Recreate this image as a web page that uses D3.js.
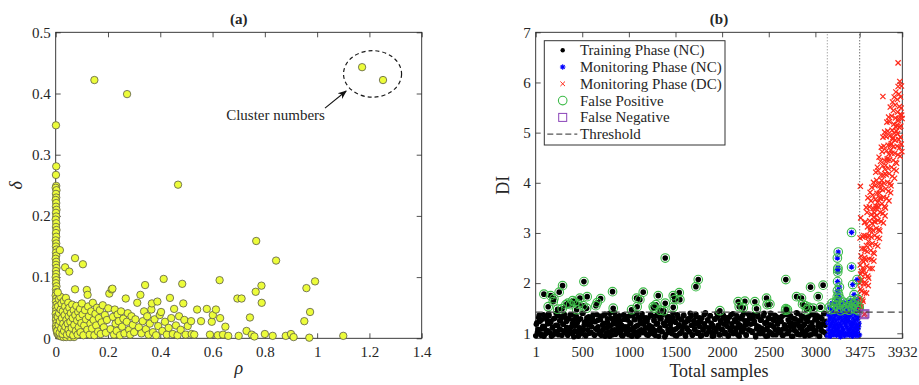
<!DOCTYPE html>
<html>
<head>
<meta charset="utf-8">
<script src="https://cdn.jsdelivr.net/npm/d3@7"></script>
<style>
  body { margin: 0; background: #fff; }
  svg { display: block; }
  text { font-family: 'Liberation Serif', 'Times New Roman', serif; fill: #262626; }
</style>
</head>
<body>
<svg id="chart" width="919" height="385"></svg>
<script>
// ---------- panel (a): decision graph ----------
const rhoTicks = [0, 0.2, 0.4, 0.6, 0.8, 1, 1.2, 1.4];
const deltaTicks = [0, 0.1, 0.2, 0.3, 0.4, 0.5];

// points stacked on rho ~ 0
const columnPts = [
  [0.001,0.348],[0.002,0.281],[0.001,0.267],[0.002,0.249],[0.000,0.246],[0.003,0.242],[0.001,0.236],[0.002,0.230],
  [0.000,0.226],[0.002,0.221],[0.001,0.215],[0.003,0.210],[0.001,0.205],[0.002,0.199],[0.000,0.194],[0.002,0.188],
  [0.001,0.182],[0.003,0.177],[0.001,0.172],[0.002,0.166],[0.000,0.160],[0.002,0.155],[0.001,0.150],[0.003,0.145],
  [0.001,0.140],[0.002,0.135],[0.000,0.130],[0.002,0.125],[0.001,0.120],[0.003,0.115],[0.001,0.110],[0.002,0.105],
  [0.000,0.100],[0.002,0.095],[0.001,0.090],[0.003,0.085],[0.001,0.080],[0.002,0.075],[0.000,0.070],[0.002,0.065],
  [0.001,0.060],[0.003,0.055],[0.001,0.050],[0.002,0.045],[0.000,0.040],[0.002,0.035],[0.001,0.030],[0.003,0.025],
  [0.001,0.020],[0.002,0.016],[0.004,0.012],[0.006,0.008],[0.010,0.006],[0.015,0.004],[0.021,0.003],[0.030,0.002],
  [0.040,0.002],[0.055,0.002],[0.070,0.002]
];

// dense cloud in the lower-left corner
const cloudPts = [
  [0.006,0.012],[0.008,0.035],[0.009,0.052],[0.011,0.022],[0.012,0.064],[0.013,0.041],[0.015,0.009],[0.016,0.028],
  [0.018,0.068],[0.019,0.047],[0.021,0.016],[0.022,0.057],[0.024,0.033],[0.026,0.007],[0.027,0.044],[0.029,0.024],
  [0.031,0.061],[0.032,0.012],[0.034,0.038],[0.036,0.052],[0.037,0.019],[0.039,0.066],[0.041,0.030],[0.043,0.006],
  [0.044,0.045],[0.046,0.024],[0.048,0.058],[0.049,0.014],[0.050,0.036],[0.008,0.075],[0.016,0.144],[0.036,0.116],
  [0.052,0.109],[0.074,0.131],[0.104,0.121],
  [0.052,0.050],[0.054,0.008],[0.056,0.027],[0.058,0.041],[0.061,0.017],[0.063,0.055],[0.065,0.033],[0.067,0.005],
  [0.069,0.046],[0.071,0.022],[0.074,0.080],[0.075,0.038],[0.077,0.012],[0.079,0.053],[0.082,0.029],[0.084,0.006],
  [0.086,0.043],[0.088,0.018],[0.091,0.034],[0.093,0.048],[0.095,0.010],[0.098,0.025],[0.100,0.057],[0.103,0.039],
  [0.106,0.005],[0.109,0.021],[0.112,0.046],[0.116,0.031],[0.119,0.079],[0.122,0.071],
  [0.121,0.014],[0.124,0.052],[0.127,0.036],[0.130,0.006],[0.133,0.024],[0.136,0.044],[0.139,0.016],[0.142,0.058],
  [0.145,0.030],[0.148,0.005],[0.152,0.040],[0.155,0.021],[0.158,0.050],[0.162,0.011],[0.165,0.033],[0.169,0.046],
  [0.172,0.007],[0.176,0.026],[0.180,0.054],[0.184,0.018],[0.188,0.038],[0.192,0.009],[0.196,0.030],[0.201,0.049],
  [0.205,0.073],[0.210,0.015],[0.214,0.080],[0.217,0.081],[0.219,0.035],
  [0.223,0.006],[0.226,0.047],[0.229,0.024],[0.233,0.012],[0.237,0.039],[0.241,0.028],[0.246,0.005],[0.250,0.044],
  [0.254,0.019],[0.259,0.032],[0.263,0.008],[0.268,0.065],[0.272,0.027],[0.276,0.041],[0.281,0.014],[0.285,0.006],
  [0.290,0.036],[0.295,0.022],[0.300,0.010],[0.305,0.031],[0.312,0.058],[0.318,0.018],
  [0.324,0.071],[0.328,0.008],[0.333,0.028],[0.338,0.044],[0.342,0.087],[0.345,0.015],[0.350,0.036],[0.355,0.006],
  [0.360,0.024],[0.366,0.047],[0.368,0.057],[0.372,0.010],[0.378,0.031],[0.384,0.005],[0.389,0.060],[0.392,0.020],
  [0.398,0.038],[0.403,0.043],[0.408,0.012],[0.413,0.097],[0.418,0.027],[0.425,0.006],[0.432,0.017],[0.437,0.066],
  [0.442,0.033],[0.448,0.007],[0.453,0.048],[0.460,0.021],[0.466,0.005],[0.472,0.036],[0.478,0.014],[0.484,0.089],
  [0.488,0.057],[0.492,0.030],[0.497,0.006]
];

// sparse points to the right
const sparsePts = [
  [0.505,0.020],[0.518,0.028],[0.520,0.007],[0.530,0.006],[0.541,0.047],[0.556,0.028],[0.578,0.048],[0.590,0.006],
  [0.597,0.027],[0.601,0.038],[0.613,0.047],[0.620,0.005],[0.627,0.095],[0.629,0.033],[0.640,0.006],[0.649,0.019],
  [0.660,0.004],[0.695,0.065],[0.700,0.004],[0.711,0.065],[0.730,0.012],[0.743,0.034],[0.750,0.006],[0.760,0.003],
  [0.765,0.076],[0.767,0.159],[0.787,0.086],[0.788,0.058],[0.800,0.007],[0.830,0.004],[0.843,0.127],[0.880,0.004],
  [0.900,0.007],[0.910,0.002],[0.951,0.028],[0.959,0.082],[0.970,0.001],[0.973,0.043],[0.992,0.093],[1.100,0.004],
  [0.148,0.422],[0.273,0.399],[0.468,0.251]
];

// the two cluster centres
const centerPts = [[1.172,0.443],[1.252,0.422]];

// ---------- panel (b): detection index ----------
const sampleTicks = [1, 500, 1000, 1500, 2000, 2500, 3000, 3475, 3932];
const diTicks = [1, 2, 3, 4, 5, 6, 7];
const threshold = 1.42;
const phaseBounds = [3128, 3475];

// training phase (NC), [sample, DI]
const trainPts = [
  [2,0.95],[14,1.21],[27,1.08],[38,1.36],[52,0.99],[63,1.27],[77,1.14],[90,0.94],[101,1.32],[115,1.05],[128,1.19],[140,1.39],
  [153,1.01],[165,1.24],[179,1.11],[191,0.97],[204,1.30],[216,1.16],[230,1.03],[243,1.35],[255,1.09],[268,1.25],[282,0.96],[294,1.18],
  [307,1.38],[320,1.06],[333,1.12],[345,0.98],[358,1.29],[371,1.04],[384,1.37],[396,1.20],[410,0.93],[422,1.15],[435,1.33],[448,1.02],
  [461,1.26],[473,1.10],[487,0.99],[499,1.40],[512,1.07],[525,1.22],[538,0.95],[550,1.31],[564,1.17],[576,1.00],[589,1.28],[602,1.13],
  [615,1.36],[627,0.97],[641,1.23],[653,1.08],[666,1.26],[679,1.03],[692,1.34],[704,0.96],[718,1.17],[730,1.09],[743,1.38],[756,1.00],
  [769,1.22],[781,1.14],[795,0.94],[807,1.30],[820,1.06],[833,1.19],[846,1.41],[858,0.98],[872,1.25],[884,1.11],[897,1.35],[910,1.02],
  [923,1.16],[935,0.95],[949,1.28],[961,1.07],[974,1.33],[987,1.13],[1000,0.97],[1012,1.21],[1026,1.08],[1038,1.36],[1051,0.99],[1064,1.27],
  [1077,1.14],[1089,0.94],[1103,1.32],[1115,1.05],[1128,1.19],[1141,1.39],[1154,1.01],[1166,1.24],[1180,1.11],[1192,0.97],[1205,1.30],[1218,1.16],
  [1231,1.03],[1243,1.35],[1257,1.09],[1269,1.25],[1282,0.96],[1295,1.18],[1308,1.38],[1320,1.06],[1334,1.29],[1346,1.04],[1359,1.37],[1372,1.20],
  [1385,0.93],[1397,1.15],[1411,1.33],[1423,1.02],[1436,1.26],[1449,1.10],[1462,0.99],[1474,1.40],[1488,1.07],[1500,1.22],[1513,0.95],[1526,1.31],
  [1539,1.17],[1551,1.00],[1565,1.28],[1577,1.13],[1590,1.36],[1603,0.97],[1616,1.23],[1628,1.08],[1642,1.26],[1654,1.03],[1667,1.34],[1680,0.96],
  [1693,1.17],[1705,1.09],[1719,1.38],[1731,1.00],[1744,1.22],[1757,1.14],[1770,0.94],[1782,1.30],[1796,1.06],[1808,1.19],[1821,1.41],[1834,0.98],
  [1847,1.25],[1859,1.11],[1873,1.35],[1885,1.02],[1898,1.16],[1911,0.95],[1924,1.28],[1936,1.07],[1950,1.33],[1962,1.13],[1975,0.97],[1988,1.21],
  [2001,1.08],[2013,1.36],[2027,0.99],[2039,1.27],[2052,1.14],[2065,0.94],[2078,1.32],[2090,1.05],[2104,1.19],[2116,1.39],[2129,1.01],[2142,1.24],
  [2155,1.11],[2167,0.97],[2181,1.30],[2193,1.16],[2206,1.03],[2219,1.35],[2232,1.09],[2244,1.25],[2258,0.96],[2270,1.18],[2283,1.38],[2296,1.06],
  [2309,1.29],[2321,1.04],[2335,1.37],[2347,1.20],[2360,0.93],[2373,1.15],[2386,1.33],[2398,1.02],[2412,1.26],[2424,1.10],[2437,0.99],[2450,1.40],
  [2463,1.07],[2475,1.22],[2489,0.95],[2501,1.31],[2514,1.17],[2527,1.00],[2540,1.28],[2552,1.13],[2566,1.36],[2578,0.97],[2591,1.23],[2604,1.08],
  [2617,1.26],[2629,1.03],[2643,1.34],[2655,0.96],[2668,1.17],[2681,1.09],[2694,1.38],[2706,1.00],[2720,1.22],[2732,1.14],[2745,0.94],[2758,1.30],
  [2771,1.06],[2783,1.19],[2797,1.41],[2809,0.98],[2822,1.25],[2835,1.11],[2848,1.35],[2860,1.02],[2874,1.16],[2886,0.95],[2899,1.28],[2912,1.07],
  [2925,1.33],[2937,1.13],[2951,0.97],[2963,1.21],[2976,1.08],[2989,1.36],[3002,0.99],[3014,1.27],[3028,1.14],[3040,0.94],[3053,1.32],[3066,1.05],
  [3079,1.19],[3091,1.39],[3105,1.01],[3117,1.24],
  // above the threshold
  [89,1.78],[135,1.53],[161,1.75],[189,1.63],[196,1.69],[236,1.48],[253,1.82],[289,1.95],[285,1.49],[325,1.57],[347,1.60],[375,1.57],
  [397,1.65],[420,1.62],[440,1.47],[455,1.58],[475,1.70],[510,1.55],[518,2.03],[547,1.50],[553,1.73],[646,1.55],[660,1.61],[697,1.69],
  [825,1.83],[832,1.50],[1029,1.47],[1083,1.70],[1089,1.53],[1118,1.67],[1154,1.82],[1261,1.53],[1270,1.50],[1290,1.57],[1315,1.75],[1335,1.46],
  [1375,1.45],[1390,1.60],[1390,2.50],[1476,1.52],[1476,1.75],[1490,1.67],[1540,1.81],[1547,1.67],[1719,1.93],[1744,2.07],[1976,1.45],[2172,1.63],
  [2183,1.53],[2226,1.51],[2244,1.64],[2351,1.63],[2369,1.49],[2476,1.70],[2483,1.57],[2512,1.58],[2680,1.46],[2683,2.07],[2683,1.49],[2700,1.47],
  [2798,1.73],[2851,1.70],[2862,1.58],[2890,1.55],[2905,1.47],[2925,1.52],[2948,1.92],[2976,1.50],[3030,1.73],[3055,1.52],[3083,1.96]
];

// more training samples inside the band
const trainPtsB = [
  [8,1.18],[20,1.02],[33,1.31],[45,1.24],[58,0.96],[70,1.09],[83,1.37],[95,1.13],[108,0.99],[120,1.27],
  [133,1.05],[145,1.35],[158,1.20],[170,0.94],[183,1.11],[195,1.29],[208,1.03],[220,1.40],[233,1.16],[245,0.97],
  [258,1.25],[270,1.07],[283,1.33],[295,1.18],[308,1.02],[320,1.31],[333,1.24],[345,0.96],[358,1.09],[370,1.37],
  [383,1.13],[395,0.99],[408,1.27],[420,1.05],[433,1.35],[445,1.20],[458,0.94],[470,1.11],[483,1.29],[495,1.03],
  [508,1.40],[520,1.16],[533,0.97],[545,1.25],[558,1.07],[570,1.33],[583,1.18],[595,1.02],[608,1.31],[620,1.24],
  [633,0.96],[645,1.09],[658,1.37],[670,1.13],[683,0.99],[695,1.27],[708,1.05],[720,1.35],[733,1.20],[745,0.94],
  [758,1.11],[770,1.29],[783,1.03],[795,1.40],[808,1.16],[820,0.97],[833,1.25],[845,1.07],[858,1.33],[870,1.18],
  [883,1.02],[895,1.31],[908,1.24],[920,0.96],[933,1.09],[945,1.37],[958,1.13],[970,0.99],[983,1.27],[995,1.05],
  [1008,1.35],[1020,1.20],[1033,0.94],[1045,1.11],[1058,1.29],[1070,1.03],[1083,1.40],[1095,1.16],[1108,0.97],[1120,1.25],
  [1133,1.07],[1145,1.33],[1158,1.18],[1170,1.02],[1183,1.31],[1195,1.24],[1208,0.96],[1220,1.09],[1233,1.37],[1245,1.13],
  [1258,0.99],[1270,1.27],[1283,1.05],[1295,1.35],[1308,1.20],[1320,0.94],[1333,1.11],[1345,1.29],[1358,1.03],[1370,1.40],
  [1383,1.16],[1395,0.97],[1408,1.25],[1420,1.07],[1433,1.33],[1445,1.18],[1458,1.02],[1470,1.31],[1483,1.24],[1495,0.96],
  [1508,1.09],[1520,1.37],[1533,1.13],[1545,0.99],[1558,1.27],[1570,1.05],[1583,1.35],[1595,1.20],[1608,0.94],[1620,1.11],
  [1633,1.29],[1645,1.03],[1658,1.40],[1670,1.16],[1683,0.97],[1695,1.25],[1708,1.07],[1720,1.33],[1733,1.18],[1745,1.02],
  [1758,1.31],[1770,1.24],[1783,0.96],[1795,1.09],[1808,1.37],[1820,1.13],[1833,0.99],[1845,1.27],[1858,1.05],[1870,1.35],
  [1883,1.20],[1895,0.94],[1908,1.11],[1920,1.29],[1933,1.03],[1945,1.40],[1958,1.16],[1970,0.97],[1983,1.25],[1995,1.07],
  [2008,1.33],[2020,1.18],[2033,1.02],[2045,1.31],[2058,1.24],[2070,0.96],[2083,1.09],[2095,1.37],[2108,1.13],[2120,0.99],
  [2133,1.27],[2145,1.05],[2158,1.35],[2170,1.20],[2183,0.94],[2195,1.11],[2208,1.29],[2220,1.03],[2233,1.40],[2245,1.16],
  [2258,0.97],[2270,1.25],[2283,1.07],[2295,1.33],[2308,1.18],[2320,1.02],[2333,1.31],[2345,1.24],[2358,0.96],[2370,1.09],
  [2383,1.37],[2395,1.13],[2408,0.99],[2420,1.27],[2433,1.05],[2445,1.35],[2458,1.20],[2470,0.94],[2483,1.11],[2495,1.29],
  [2508,1.03],[2520,1.40],[2533,1.16],[2545,0.97],[2558,1.25],[2570,1.07],[2583,1.33],[2595,1.18],[2608,1.02],[2620,1.31],
  [2633,1.24],[2645,0.96],[2658,1.09],[2670,1.37],[2683,1.13],[2695,0.99],[2708,1.27],[2720,1.05],[2733,1.35],[2745,1.20],
  [2758,0.94],[2770,1.11],[2783,1.29],[2795,1.03],[2808,1.40],[2820,1.16],[2833,0.97],[2845,1.25],[2858,1.07],[2870,1.33],
  [2883,1.18],[2895,1.02],[2908,1.31],[2920,1.24],[2933,0.96],[2945,1.09],[2958,1.37],[2970,1.13],[2983,0.99],[2995,1.27],
  [3008,1.05],[3020,1.35],[3033,1.20],[3045,0.94],[3058,1.11],[3070,1.29],[3083,1.03],[3095,1.40],[3108,1.16],[3120,0.97]
];

// monitoring phase (NC)
const monitorNC = [
  [3130,0.95],[3134,1.21],[3139,1.08],[3143,1.36],[3147,0.99],[3152,1.27],[3156,1.14],[3160,0.94],[3165,1.32],[3169,1.05],
  [3173,1.19],[3178,1.39],[3182,1.01],[3186,1.24],[3191,1.11],[3195,0.97],[3199,1.30],[3204,1.16],[3208,1.03],[3212,1.35],
  [3217,1.09],[3221,1.25],[3225,0.96],[3230,1.18],[3234,1.38],[3238,1.06],[3243,1.12],[3247,0.98],[3251,1.29],[3256,1.04],
  [3260,1.37],[3264,1.20],[3269,0.93],[3273,1.15],[3277,1.33],[3282,1.02],[3286,1.26],[3290,1.10],[3295,0.99],[3299,1.40],
  [3303,1.07],[3308,1.22],[3312,0.95],[3316,1.31],[3321,1.17],[3325,1.00],[3329,1.28],[3334,1.13],[3338,1.36],[3342,0.97],
  [3347,1.23],[3351,1.08],[3355,1.26],[3360,1.03],[3364,1.34],[3368,0.96],[3373,1.17],[3377,1.09],[3381,1.38],[3386,1.00],
  [3390,1.22],[3394,1.14],[3399,0.94],[3403,1.30],[3407,1.06],[3412,1.19],[3416,1.41],[3420,0.98],[3425,1.25],[3429,1.11],
  [3433,1.35],[3438,1.02],[3442,1.16],[3446,0.95],[3451,1.28],[3455,1.07],[3459,1.33],[3464,1.13],[3468,1.20],[3472,0.97],
  // above the threshold
  [3150,1.52],[3165,1.47],[3180,1.60],[3195,1.48],[3215,1.55],[3226,1.62],[3230,1.65],[3234,1.72],[3236,1.85],[3238,2.03],
  [3240,2.22],[3240,2.27],[3242,2.30],[3236,2.50],[3245,2.62],[3248,1.78],[3250,1.50],[3255,1.58],[3258,1.92],[3262,1.70],
  [3270,1.45],[3285,1.55],[3300,1.62],[3315,1.48],[3330,1.52],[3345,1.60],[3360,1.46],[3372,1.55],[3380,1.65],[3388,3.01],
  [3388,2.32],[3395,1.50],[3400,1.97],[3410,1.58],[3415,1.77],[3425,1.62],[3430,1.48],[3440,1.54],[3447,2.07],[3455,1.68],
  [3462,1.45],[3470,1.52]
];

// monitoring phase (DC)
const monitorDC = [
  [3477,1.46],[3478,2.00],[3480,1.70],[3481,2.36],[3483,1.88],[3485,2.18],[3487,1.58],[3489,2.54],[3490,2.06],[3482,3.93],[3486,3.30],[3479,2.90],
  [3491,1.53],[3494,2.23],[3496,1.84],[3499,2.69],[3501,2.07],[3503,2.46],[3505,1.68],[3507,2.92],[3509,2.30],
  [3511,1.64],[3514,2.43],[3516,1.99],[3519,2.95],[3521,2.25],[3523,2.69],[3525,1.81],[3527,3.21],[3529,2.51],
  [3531,2.65],[3534,2.18],[3536,3.22],[3539,2.46],[3541,2.94],[3543,1.99],[3545,3.51],[3547,2.75],[3549,1.80],
  [3551,2.34],[3554,3.41],[3556,2.63],[3559,3.12],[3561,2.14],[3563,3.70],[3565,2.92],[3567,1.95],[3569,2.83],
  [3571,2.10],[3574,2.95],[3576,2.48],[3579,3.52],[3581,2.76],[3583,3.24],[3585,2.29],[3587,3.81],[3589,3.05],
  [3591,3.10],[3594,2.65],[3596,3.64],[3599,2.92],[3601,3.37],[3603,2.47],[3605,3.91],[3607,3.19],[3609,2.29],
  [3611,2.79],[3614,3.75],[3616,3.05],[3619,3.49],[3621,2.61],[3623,4.01],[3625,3.31],[3627,2.44],[3629,3.23],
  [3631,2.59],[3634,3.40],[3636,2.95],[3639,3.94],[3641,3.22],[3643,3.67],[3645,2.77],[3647,4.21],[3649,3.49],
  [3651,3.53],[3654,3.09],[3656,4.05],[3659,3.35],[3661,3.79],[3663,2.91],[3665,4.31],[3667,3.61],[3669,2.74],
  [3671,3.25],[3674,4.24],[3676,3.52],[3679,3.97],[3681,3.07],[3683,4.51],[3685,3.79],[3687,2.89],[3689,3.70],
  [3691,3.04],[3694,3.88],[3696,3.41],[3699,4.43],[3701,3.69],[3703,4.15],[3705,3.23],[3707,4.71],[3709,3.97],
  [3711,4.05],[3714,3.58],[3716,4.62],[3719,3.86],[3721,4.34],[3723,3.39],[3725,4.91],[3727,4.15],[3729,3.20],[3724,5.72],
  [3731,3.71],[3734,4.73],[3736,3.99],[3739,4.45],[3741,3.53],[3743,5.01],[3745,4.27],[3747,3.34],[3749,4.18],
  [3751,3.50],[3754,4.35],[3756,3.88],[3759,4.92],[3761,4.16],[3763,4.64],[3765,3.69],[3767,5.21],[3769,4.45],
  [3771,4.48],[3774,4.01],[3776,5.03],[3779,4.29],[3781,4.75],[3783,3.83],[3785,5.31],[3787,4.57],[3789,3.64],
  [3791,4.18],[3794,5.22],[3796,4.46],[3799,4.94],[3801,3.99],[3803,5.51],[3805,4.75],[3807,3.80],[3809,4.65],
  [3811,3.94],[3814,4.78],[3816,4.31],[3819,5.33],[3821,4.59],[3823,5.05],[3825,4.13],[3827,5.61],[3829,4.87],
  [3831,4.90],[3834,4.45],[3836,5.44],[3839,4.72],[3841,5.17],[3843,4.27],[3845,5.71],[3847,4.99],[3849,4.09],
  [3851,4.59],[3854,5.55],[3856,4.85],[3859,5.29],[3861,4.41],[3863,5.81],[3865,5.11],[3867,4.24],[3869,5.03],
  [3871,4.39],[3874,5.15],[3876,4.73],[3879,5.66],[3881,4.98],[3883,5.41],[3885,4.56],[3887,5.92],[3889,5.24],[3887,6.39],
  [3891,5.28],[3894,4.86],[3896,5.77],[3899,5.11],[3901,5.52],[3903,4.70],[3905,6.02],[3907,5.36],[3909,4.53],
  [3911,4.91],[3914,5.71],[3916,5.13],[3919,5.49],[3921,4.77],[3923,5.93],[3925,5.35],[3927,4.62],[3930,5.28],
  // below the threshold (missed)
  [3522,1.37],[3531,1.39]
];

const legendItems = ['Training Phase (NC)', 'Monitoring Phase (NC)', 'Monitoring Phase (DC)', 'False Positive', 'False Negative', 'Threshold'];

const svg = d3.select('#chart');

// inward ticks on all four sides, MATLAB style box
function drawBox(g, x, y, xTicks, yTicks, xFmt, yFmt) {
    const [x0, x1] = x.range();
    const [y0, y1] = y.range();
    const tk = 5;

    const styleAxis = sel => {
        sel.select('.domain').remove();
        sel.selectAll('line').attr('stroke', '#262626').attr('stroke-width', 0.8);
        sel.selectAll('text').style('font-size', '15px').attr('fill', '#262626');
    };

    g.append('g').attr('transform', `translate(0,${y0})`)
        .call(d3.axisBottom(x).tickValues(xTicks).tickFormat(xFmt).tickSize(-tk).tickPadding(8))
        .call(styleAxis);
    g.append('g').attr('transform', `translate(0,${y1})`)
        .call(d3.axisTop(x).tickValues(xTicks).tickFormat('').tickSize(-tk))
        .call(styleAxis);
    g.append('g').attr('transform', `translate(${x0},0)`)
        .call(d3.axisLeft(y).tickValues(yTicks).tickFormat(yFmt).tickSize(-tk).tickPadding(5))
        .call(styleAxis);
    g.append('g').attr('transform', `translate(${x1},0)`)
        .call(d3.axisRight(y).tickValues(yTicks).tickFormat('').tickSize(-tk))
        .call(styleAxis);

    g.append('rect')
        .attr('x', x0).attr('y', y1)
        .attr('width', x1 - x0).attr('height', y0 - y1)
        .attr('fill', 'none')
        .attr('stroke', '#262626')
        .attr('stroke-width', 0.9);
}

// ===== panel (a) =====
const xA = d3.scaleLinear().domain([0, 1.4]).range([55.7, 421.7]);
const yA = d3.scaleLinear().domain([0, 0.5]).range([338.3, 32.3]);
const gA = svg.append('g');

drawBox(gA, xA, yA, rhoTicks, deltaTicks, d3.format('~g'), d3.format('~g'));

const allA = [...columnPts, ...cloudPts, ...sparsePts, ...centerPts];
gA.append('g').selectAll('circle')
    .data(allA)
    .enter()
    .append('circle')
    .attr('cx', d => xA(d[0]))
    .attr('cy', d => yA(d[1]))
    .attr('r', 3.7)
    .attr('fill', '#ecfc3a')
    .attr('stroke', '#5a5a48')
    .attr('stroke-width', 0.8);

// annotation around the cluster centres
gA.append('ellipse')
    .attr('cx', xA(1.212)).attr('cy', yA(0.432))
    .attr('rx', xA(0.111) - xA(0)).attr('ry', yA(0) - yA(0.038))
    .attr('fill', 'none')
    .attr('stroke', '#1a1a1a')
    .attr('stroke-width', 1.2)
    .attr('stroke-dasharray', '4,3');

svg.append('defs').append('marker')
    .attr('id', 'arrowhead')
    .attr('viewBox', '0 0 10 10')
    .attr('refX', 9).attr('refY', 5)
    .attr('markerWidth', 9).attr('markerHeight', 9)
    .attr('markerUnits', 'userSpaceOnUse')
    .attr('orient', 'auto')
    .append('path')
    .attr('d', 'M0,1 L10,5 L0,9 L3,5 Z')
    .attr('fill', '#111');

gA.append('line')
    .attr('x1', xA(1.030)).attr('y1', yA(0.376))
    .attr('x2', xA(1.111)).attr('y2', yA(0.404))
    .attr('stroke', '#111')
    .attr('stroke-width', 1.1)
    .attr('marker-end', 'url(#arrowhead)');

gA.append('text')
    .attr('x', xA(0.652)).attr('y', yA(0.357))
    .style('font-size', '15px')
    .text('Cluster numbers');

gA.append('text')
    .attr('x', (xA.range()[0] + xA.range()[1]) / 2)
    .attr('y', 24)
    .attr('text-anchor', 'middle')
    .style('font-size', '15px')
    .style('font-weight', 'bold')
    .text('(a)');

gA.append('text')
    .attr('x', (xA.range()[0] + xA.range()[1]) / 2)
    .attr('y', 374)
    .attr('text-anchor', 'middle')
    .style('font-size', '18px')
    .style('font-style', 'italic')
    .text('ρ');

gA.append('text')
    .attr('transform', `translate(22,${(yA.range()[0] + yA.range()[1]) / 2}) rotate(-90)`)
    .attr('text-anchor', 'middle')
    .style('font-size', '18px')
    .style('font-style', 'italic')
    .text('δ');

// ===== panel (b) =====
const xB = d3.scaleLinear().domain([1, 3932]).range([535.7, 902.3]);
const yB = d3.scaleLinear().domain([0.9, 7]).range([338.3, 32.3]);
const gB = svg.append('g');

drawBox(gB, xB, yB, sampleTicks, diTicks, d => d, d => d);

const starPath = r => `M${-r},0H${r}M0,${-r}V${r}M${-r * 0.7},${-r * 0.7}L${r * 0.7},${r * 0.7}M${-r * 0.7},${r * 0.7}L${r * 0.7},${-r * 0.7}`;
const crossPath = r => `M${-r},${-r}L${r},${r}M${-r},${r}L${r},${-r}`;

const green = '#3dbb48';
const purple = '#8a44b8';

gB.append('g').selectAll('circle')
    .data([...trainPts, ...trainPtsB])
    .enter()
    .append('circle')
    .attr('cx', d => xB(d[0]))
    .attr('cy', d => yB(d[1]))
    .attr('r', 2.8)
    .attr('fill', '#000');

gB.append('g').selectAll('path')
    .data(monitorNC)
    .enter()
    .append('path')
    .attr('transform', d => `translate(${xB(d[0])},${yB(d[1])})`)
    .attr('d', starPath(2.8))
    .attr('stroke', '#0000ff')
    .attr('stroke-width', 1.2);

gB.append('g').selectAll('path')
    .data(monitorDC)
    .enter()
    .append('path')
    .attr('transform', d => `translate(${xB(d[0])},${yB(d[1])})`)
    .attr('d', crossPath(2.6))
    .attr('stroke', '#ff2a1a')
    .attr('stroke-width', 1.25);

// false positives: normal samples above the threshold
const falsePos = [...trainPts, ...trainPtsB, ...monitorNC].filter(d => d[1] > threshold);
gB.append('g').selectAll('circle')
    .data(falsePos)
    .enter()
    .append('circle')
    .attr('cx', d => xB(d[0]))
    .attr('cy', d => yB(d[1]))
    .attr('r', 4.3)
    .attr('fill', 'none')
    .attr('stroke', green)
    .attr('stroke-width', 1.1);

// false negatives: damaged samples below the threshold
const falseNeg = monitorDC.filter(d => d[1] < threshold);
gB.append('g').selectAll('rect')
    .data(falseNeg)
    .enter()
    .append('rect')
    .attr('x', d => xB(d[0]) - 4)
    .attr('y', d => yB(d[1]) - 4)
    .attr('width', 8).attr('height', 8)
    .attr('fill', 'rgba(138,68,184,0.2)')
    .attr('stroke', purple)
    .attr('stroke-width', 1);

gB.append('line')
    .attr('x1', xB(1)).attr('x2', xB(3932))
    .attr('y1', yB(threshold)).attr('y2', yB(threshold))
    .attr('stroke', '#444')
    .attr('stroke-width', 1.2)
    .attr('stroke-dasharray', '7,4');

gB.selectAll('.bound')
    .data(phaseBounds)
    .enter()
    .append('line')
    .attr('x1', d => xB(d)).attr('x2', d => xB(d))
    .attr('y1', yB(0.9)).attr('y2', yB(7))
    .attr('stroke', (d, i) => i === 0 ? '#777' : '#222')
    .attr('stroke-width', 0.9)
    .attr('stroke-dasharray', '1,2');

// legend
const leg = gB.append('g').attr('transform', 'translate(544.3,40.7)');
leg.append('rect')
    .attr('width', 180.7).attr('height', 104.3)
    .attr('fill', '#fff')
    .attr('stroke', '#333')
    .attr('stroke-width', 1);

const row = leg.selectAll('.row')
    .data(legendItems)
    .enter()
    .append('g')
    .attr('transform', (d, i) => `translate(0,${9.5 + i * 16.8})`);

row.append('text')
    .attr('x', 35.7)
    .attr('y', 5)
    .style('font-size', '15px')
    .text(d => d);

const mx = 18.4;
leg.append('circle').attr('cx', mx).attr('cy', 9.5).attr('r', 2.2).attr('fill', '#000');
leg.append('path').attr('transform', `translate(${mx},${9.5 + 16.8})`).attr('d', starPath(2.8))
    .attr('stroke', '#0000ff').attr('stroke-width', 1.1);
leg.append('path').attr('transform', `translate(${mx},${9.5 + 2 * 16.8})`).attr('d', crossPath(2.3))
    .attr('stroke', '#ff2a1a').attr('stroke-width', 1);
leg.append('circle').attr('cx', mx).attr('cy', 9.5 + 3 * 16.8).attr('r', 4.3)
    .attr('fill', 'none').attr('stroke', green).attr('stroke-width', 1.1);
leg.append('rect').attr('x', mx - 4).attr('y', 9.5 + 4 * 16.8 - 4).attr('width', 8).attr('height', 8)
    .attr('fill', 'none').attr('stroke', purple).attr('stroke-width', 1);
leg.append('line').attr('x1', 3).attr('x2', 33).attr('y1', 9.5 + 5 * 16.8).attr('y2', 9.5 + 5 * 16.8)
    .attr('stroke', '#555').attr('stroke-width', 1.3).attr('stroke-dasharray', '6,3');

gB.append('text')
    .attr('x', (xB.range()[0] + xB.range()[1]) / 2)
    .attr('y', 24)
    .attr('text-anchor', 'middle')
    .style('font-size', '15px')
    .style('font-weight', 'bold')
    .text('(b)');

gB.append('text')
    .attr('x', (xB.range()[0] + xB.range()[1]) / 2)
    .attr('y', 377)
    .attr('text-anchor', 'middle')
    .style('font-size', '18px')
    .text('Total samples');

gB.append('text')
    .attr('transform', `translate(509,${(yB.range()[0] + yB.range()[1]) / 2}) rotate(-90)`)
    .attr('text-anchor', 'middle')
    .style('font-size', '18px')
    .text('DI');
</script>
</body>
</html>
